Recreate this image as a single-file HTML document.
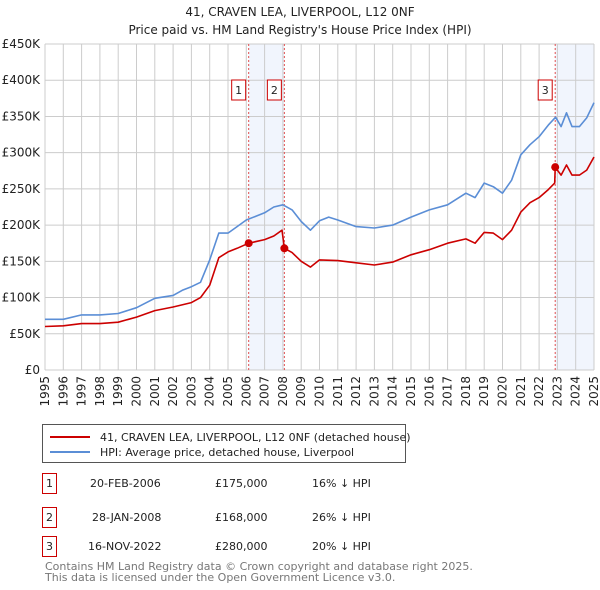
<!DOCTYPE html>
<html><head><meta charset="utf-8"><style>
body{margin:0;background:#fff;font-family:"DejaVu Sans","Liberation Sans",sans-serif;}
svg{display:block}
</style></head><body>
<svg id="c" width="600" height="590" viewBox="0 0 600 590" xmlns="http://www.w3.org/2000/svg" font-family="DejaVu Sans, Liberation Sans, sans-serif">
<text x="300" y="16" text-anchor="middle" font-size="12" fill="#222">41, CRAVEN LEA, LIVERPOOL, L12 0NF</text>
<text x="300" y="34" text-anchor="middle" font-size="12" fill="#222">Price paid vs. HM Land Registry's House Price Index (HPI)</text>
<g id="plot"></g>
<g>
<rect x="42.5" y="424.5" width="363" height="38" fill="#fff" stroke="#555"/>
<line x1="50" y1="437" x2="90" y2="437" stroke="#cc0000" stroke-width="2"/>
<text x="100" y="441" font-size="11" fill="#222">41, CRAVEN LEA, LIVERPOOL, L12 0NF (detached house)</text>
<line x1="50" y1="452" x2="90" y2="452" stroke="#5b8ed6" stroke-width="2"/>
<text x="100" y="456" font-size="11" fill="#222">HPI: Average price, detached house, Liverpool</text>
</g>
<g font-size="11" fill="#222">
<rect x="42.5" y="473.5" width="14" height="20" fill="#fff" stroke="#cc0000"/><text x="49.5" y="487" text-anchor="middle">1</text>
<text x="90" y="487">20-FEB-2006</text><text x="215" y="487">£175,000</text><text x="312" y="487">16% ↓ HPI</text>
<rect x="42.5" y="507.5" width="14" height="20" fill="#fff" stroke="#cc0000"/><text x="49.5" y="521" text-anchor="middle">2</text>
<text x="92" y="521">28-JAN-2008</text><text x="215" y="521">£168,000</text><text x="312" y="521">26% ↓ HPI</text>
<rect x="42.5" y="536.5" width="14" height="20" fill="#fff" stroke="#cc0000"/><text x="49.5" y="550" text-anchor="middle">3</text>
<text x="88" y="550">16-NOV-2022</text><text x="215" y="550">£280,000</text><text x="312" y="550">20% ↓ HPI</text>
</g>
<text x="45" y="570" font-size="11" fill="#777">Contains HM Land Registry data © Crown copyright and database right 2025.</text>
<text x="45" y="581" font-size="11" fill="#777">This data is licensed under the Open Government Licence v3.0.</text>
</svg>
<script>
const hpiYears=[1995,1996,1997,1998,1999,2000,2001,2002,2002.5,2003,2003.5,2004,2004.5,2005,2005.5,2006,2007,2007.5,2008,2008.5,2009,2009.5,2010,2010.5,2011,2012,2013,2014,2015,2016,2017,2018,2018.5,2019,2019.5,2020,2020.5,2021,2021.5,2022,2022.5,2022.9,2023.2,2023.5,2023.8,2024.2,2024.6,2025];
const hpiValues=[70,70,76,76,78,86,99,103,110,115,121,152,189,189,198,207,217,225,228,221,205,193,206,211,207,198,196,200,211,221,228,244,238,258,253,244,262,297,311,322,338,349,336,355,336,336,348,369];
const paidYears=[1995,1996,1997,1998,1999,2000,2001,2002,2003,2003.5,2004,2004.5,2005,2005.5,2006.13,2007,2007.5,2007.95,2008.08,2008.5,2009,2009.5,2010,2011,2012,2013,2014,2015,2016,2017,2018,2018.5,2019,2019.5,2020,2020.5,2021,2021.5,2022,2022.5,2022.85,2022.88,2023.2,2023.5,2023.8,2024.2,2024.6,2025];
const paidValues=[60,61,64,64,66,73,82,87,93,100,117,155,163,168,175,180,185,193,168,162,150,142,152,151,148,145,149,159,166,175,181,175,190,189,180,193,218,231,238,249,258,280,269,283,269,269,276,294];
const saleYears=[2006.13,2008.08,2022.88];
const saleValues=[175,168,280];
const saleLabels=["1","2","3"];
const yTicks=[0,50,100,150,200,250,300,350,400,450];
const yTickLabels=["£0","£50K","£100K","£150K","£200K","£250K","£300K","£350K","£400K","£450K"];
const xTicks=[1995,1996,1997,1998,1999,2000,2001,2002,2003,2004,2005,2006,2007,2008,2009,2010,2011,2012,2013,2014,2015,2016,2017,2018,2019,2020,2021,2022,2023,2024,2025];

const X0=45,X1=594,Y0=370,Y1=44;
const xs=v=>X0+(v-1995)/30*(X1-X0);
const ys=v=>Y0-v/450*(Y0-Y1);
const NS="http://www.w3.org/2000/svg";
const g=document.getElementById('plot');
function mk(t,a){const e=document.createElementNS(NS,t);for(const k in a)e.setAttribute(k,a[k]);g.appendChild(e);return e;}
let e=mk('rect',{x:xs(saleYears[0]),y:Y1,width:xs(saleYears[1])-xs(saleYears[0]),height:Y0-Y1,fill:'#f1f5fd'});


e=mk('rect',{x:xs(saleYears[2]),y:Y1,width:X1-xs(saleYears[2]),height:Y0-Y1,fill:'#f1f5fd'});


yTicks.forEach((t,i)=>{
 let l=mk('line',{x1:X0,x2:X1,y1:ys(t),y2:ys(t),stroke:'#ccc','stroke-width':1});
 
 
 let tx=mk('text',{x:X0-5,y:ys(t)+4,'text-anchor':'end','font-size':12,fill:'#222'});
 tx.textContent=yTickLabels[i];
 
 
});
xTicks.forEach(t=>{
 let l=mk('line',{x1:xs(t),x2:xs(t),y1:Y1,y2:Y0,stroke:'#ccc','stroke-width':1});
 
 
 let tx=mk('text',{x:0,y:0,'text-anchor':'end','font-size':12,fill:'#222',transform:`translate(${xs(t)+4},376) rotate(-90)`});
 tx.textContent=t;
 
 
});
saleYears.forEach((s,i)=>{
 let l=mk('line',{x1:xs(s),x2:xs(s),y1:Y1,y2:Y0,stroke:'#e05050','stroke-width':1,'stroke-dasharray':'2,2'});
 
 
 let r=mk('rect',{x:xs(s)-17,y:80,width:14,height:20,fill:'#fff',stroke:'#cc0000'});
 
 
 let tx=mk('text',{x:xs(s)-10,y:94,'text-anchor':'middle','font-size':11,fill:'#222'});
 tx.textContent=saleLabels[i];
 
 
});
function path(xa,va,col,name){
 const d=xa.map((x,i)=>(i?'L':'M')+xs(x).toFixed(1)+','+ys(va[i]).toFixed(1)).join('');
 const p=mk('path',{d:d,fill:'none',stroke:col,'stroke-width':1.6,'stroke-linejoin':'round'});
 
 
}
path(hpiYears,hpiValues,'#5b8ed6','hpi-line');
path(paidYears,paidValues,'#cc0000','price-paid-line');
saleYears.forEach((s,i)=>{
 const c=mk('circle',{cx:xs(s),cy:ys(saleValues[i]),r:4,fill:'#cc0000'});
 
 
});
</script>
</body></html>
